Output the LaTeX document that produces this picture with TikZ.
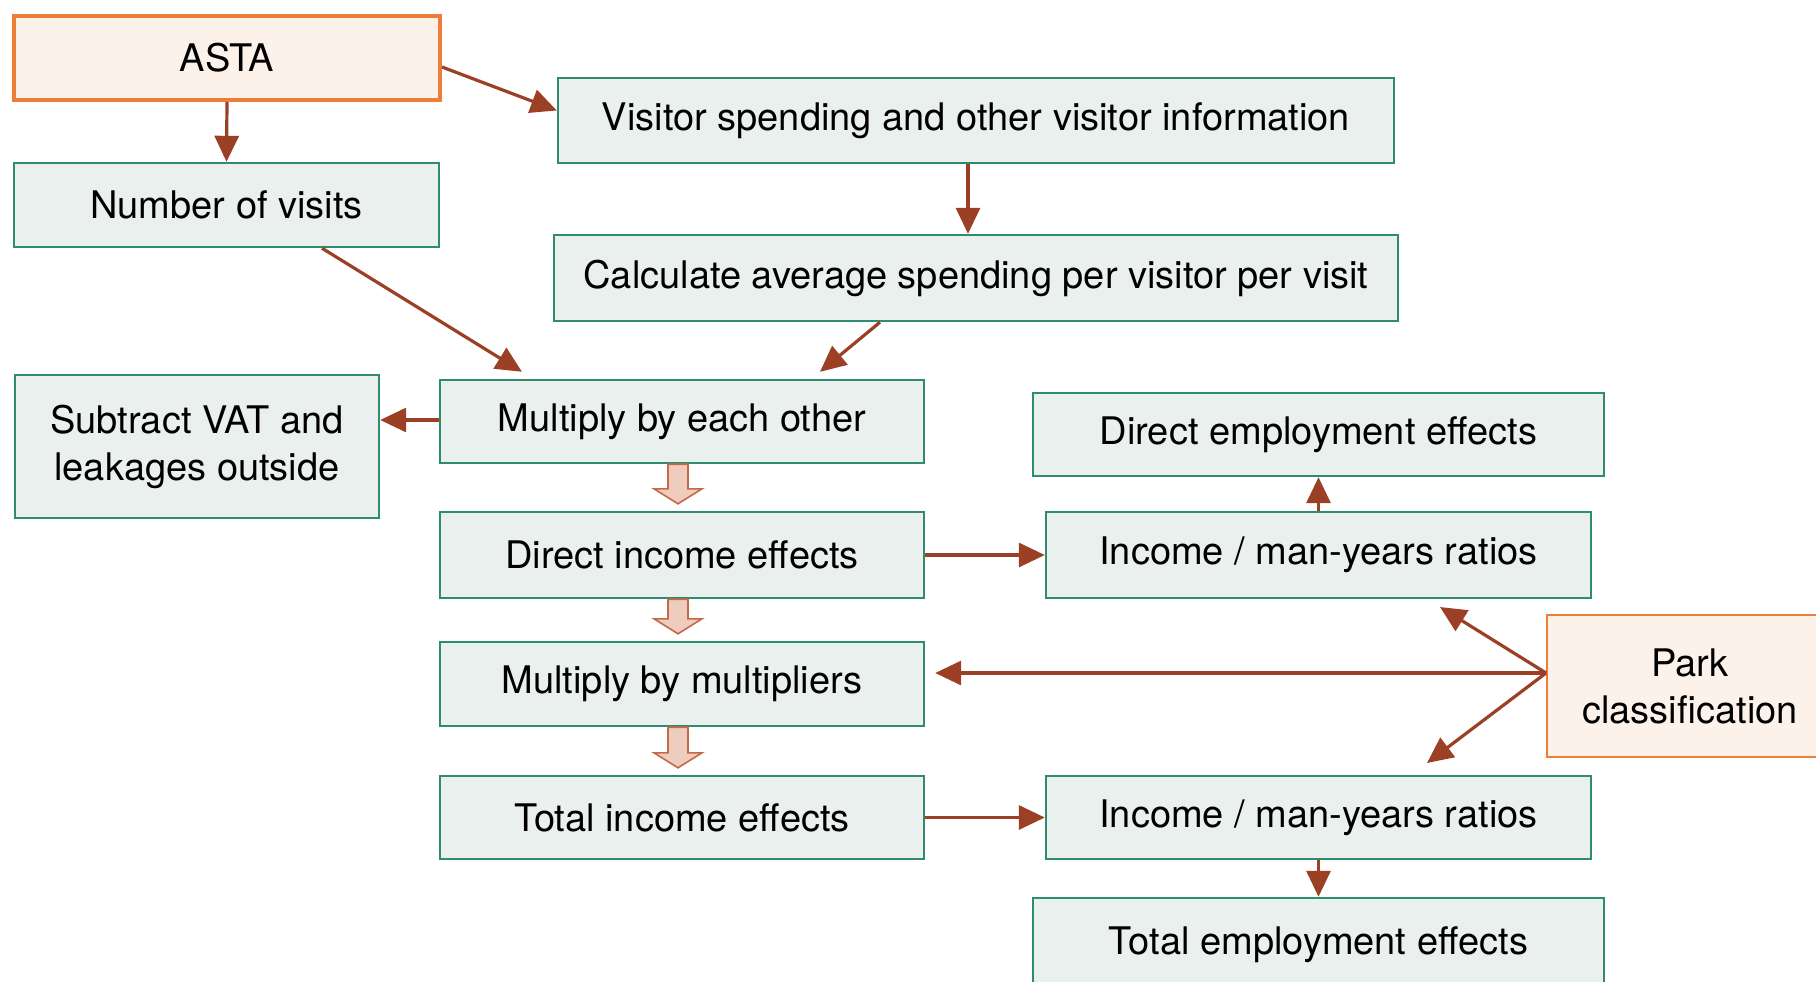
\documentclass[tikz,border=0pt]{standalone}
\usepackage{fontspec}
\setmainfont{TeX Gyre Heros}
\usetikzlibrary{arrows.meta,calc}

\definecolor{boxline}{RGB}{47,140,112}
\definecolor{boxfill}{RGB}{234,240,238}
\definecolor{srcline}{RGB}{238,125,58}
\definecolor{srcfill}{RGB}{252,242,233}
\definecolor{arrbrown}{RGB}{155,63,37}
\definecolor{fatfill}{RGB}{239,205,190}
\definecolor{fatline}{RGB}{196,106,72}

\begin{document}
\begin{tikzpicture}[x=0.5pt,y=-0.5pt]
\useasboundingbox (0,0) rectangle (1816,981);
\clip (0,0) rectangle (1816,981);

\coordinate (C_asta) at (227, 58);
\coordinate (C_visits) at (226.5, 205);
\coordinate (C_spend) at (976, 120.5);
\coordinate (C_avg) at (976, 278);
\coordinate (C_vat) at (197, 446.5);
\coordinate (C_mult) at (682, 421.5);
\coordinate (C_direct) at (682, 555);
\coordinate (C_multi) at (682, 684);
\coordinate (C_total) at (682, 817.5);
\coordinate (C_demp) at (1318.5, 434.5);
\coordinate (C_imyA) at (1318.5, 555);
\coordinate (C_park) at (1690, 686);
\coordinate (C_imyB) at (1318.5, 817.5);
\coordinate (C_temp) at (1318.5, 945);

\coordinate (upA) at (1440, 607);
\coordinate (downB) at (1427, 763);


\tikzset{BoxStyle/.style = {
 draw = boxline,
 fill = boxfill,
 line width = 1.2pt,
 inner sep = 0pt,
 align = center,
 font = \fontsize{19}{23.5}\selectfont} }
\tikzset{SourceStyle/.style = {BoxStyle, draw = srcline, fill = srcfill} }

\node[SourceStyle, line width=2pt, minimum width=213pt, minimum height=42pt] (asta) at (C_asta) {ASTA};
\node[BoxStyle, minimum width=212.5pt, minimum height=42pt] (visits) at (C_visits) {Number of visits};
\node[BoxStyle, minimum width=418pt, minimum height=42.5pt] (spend) at (C_spend) {Visitor spending and other visitor information};
\node[BoxStyle, minimum width=422pt, minimum height=43pt] (avg) at (C_avg) {Calculate average spending per visitor per visit};
\node[BoxStyle, minimum width=182pt, minimum height=71.5pt] (vat) at (C_vat) {Subtract VAT and\\leakages outside};
\node[BoxStyle, minimum width=242pt, minimum height=41.5pt] (mult) at (C_mult) {Multiply by each other};
\node[BoxStyle, minimum width=242pt, minimum height=43pt] (direct) at (C_direct) {Direct income effects};
\node[BoxStyle, minimum width=242pt, minimum height=42pt] (multi) at (C_multi) {Multiply by multipliers};
\node[BoxStyle, minimum width=242pt, minimum height=41.5pt] (total) at (C_total) {Total income effects};
\node[BoxStyle, minimum width=285.5pt, minimum height=41.5pt] (demp) at (C_demp) {Direct employment effects};
\node[BoxStyle, minimum width=272.5pt, minimum height=43pt] (imyA) at (C_imyA) {Income / man-years ratios};
\node[SourceStyle, line width=1pt, minimum width=143pt, minimum height=71pt] (park) at (C_park) {Park\\classification};
\node[BoxStyle, minimum width=272.5pt, minimum height=41.5pt] (imyB) at (C_imyB) {Income / man-years ratios};
\node[BoxStyle, minimum width=285.5pt, minimum height=47pt] (temp) at (C_temp) {Total employment effects};

\coordinate (pk) at ([yshift=6.5pt]park.west);


\tikzset{ArrowStyle/.style = {draw=arrbrown, line width=1.6pt,
 -{Triangle[length=13pt, width=12pt]}} }
\tikzset{FatStyle/.style = {draw=fatline, fill=fatfill, line width=0.8pt, line join=miter} }

\draw[ArrowStyle] (asta.south) -- (visits.north);
\draw[ArrowStyle] ([yshift=-4.5pt]asta.east) -- ([yshift=5pt]spend.west);
\draw[ArrowStyle] ([xshift=-4pt]spend.south) -- ([xshift=-4pt]avg.north);
\draw[ArrowStyle] ([xshift=47.75pt]visits.south) -- ([xshift=-80pt,yshift=3.5pt]mult.north);
\draw[ArrowStyle] ([xshift=-48pt]avg.south) -- ([xshift=69pt,yshift=3.5pt]mult.north);
\draw[ArrowStyle] ([yshift=0.75pt]mult.west) -- ([yshift=0.75pt]mult.west -| vat.east);
\draw[ArrowStyle] (direct.east) -- (imyA.west);
\draw[ArrowStyle] (imyA.north) -- (demp.south);
\draw[ArrowStyle] (total.east) -- (imyB.west);
\draw[ArrowStyle] (imyB.south) -- (temp.north);
\draw[ArrowStyle, shorten >=5pt] (pk) -- (pk -| multi.east);
\draw[ArrowStyle] (pk) -- (upA);
\draw[ArrowStyle] (pk) -- (downB);

\foreach \a/\b in {mult/direct, direct/multi, multi/total}
 \draw[FatStyle] ($(\a.south)+(-14,0)$) -- ($(\b.north)+(-14,-22)$) -- ($(\b.north)+(-28,-22)$)
  -- ($(\b.north)+(-4,-7)$) -- ($(\b.north)+(20,-22)$) -- ($(\b.north)+(6,-22)$) -- ($(\a.south)+(6,0)$) -- cycle;

\end{tikzpicture}
\end{document}
